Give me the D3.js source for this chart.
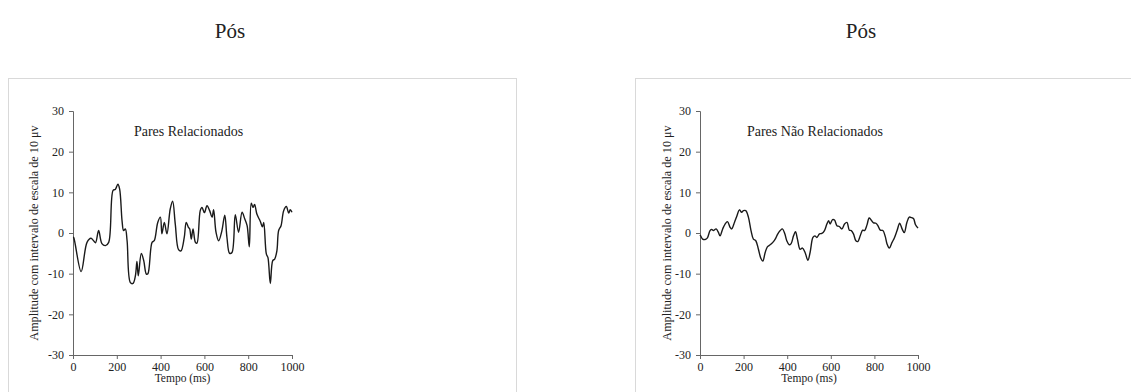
<!DOCTYPE html>
<html>
<head>
<meta charset="utf-8">
<script src="https://cdn.jsdelivr.net/npm/d3@7"></script>
<style>
  html, body { margin: 0; padding: 0; background: #fff; }
  svg { display: block; }
  text { font-family: "Liberation Serif", "Times New Roman", serif; fill: #222; }
</style>
</head>
<body>
<svg id="chart" width="1131" height="392"></svg>
<script>
// ERP waveforms (amplitude vs. time) for the post-test condition
const timeRel = [0, 3, 37, 64, 82, 94, 103, 117, 132, 148, 163, 183, 193, 205, 213, 224, 231, 239, 247,
  262, 274, 285, 292, 298, 312, 323, 335, 342, 361, 371, 387, 399, 406, 417, 429, 444, 455, 467, 482,
  493, 508, 517, 527, 533, 540, 548, 559, 566, 581, 589, 600, 612, 624, 635, 642, 653, 665, 680, 693,
  703, 715, 726, 741, 756, 772, 784, 795, 805, 814, 822, 829, 840, 855, 865, 871, 883, 890, 901, 912,
  921, 931, 939, 950, 962, 974, 985, 992, 1000];
const ampRel = [-1, -1.1, -9.5, -2.3, -1.3, -1.9, -2.4, 0.6, -2.6, -3.1, -2.3, 10.5, 10.7, 12, 10.8, 3, 0.6, 1, -1.9,
  -12.2, -12.4, -10.5, -7, -10.5, -5, -6.8, -10.1, -10, -2.3, -1.9, 2.6, 3.9, -0.2, 2.6, -0.2, 5.9, 7.8, 2.2, -4.1,
  -4.4, -1.1, 2.6, 1.4, 1, -1.5, 1, -2.3, -2.5, 5.5, 6.3, 5, 6.7, 5.5, 3.9, 5.7, 0.2, -1.9, 0.6, 4.4,
  -1.1, -5, -4.8, 4.5, 0.2, 5.1, 3.5, 1.8, -3.4, 7.3, 6.3, 7, 4.6, 2.9, 1.5, 2.6, -5.2, -6, -12.4, -6.8,
  -6.4, -4.4, 0.6, 1.8, 5.5, 6.5, 4.9, 5.7, 5.1];

const timeNonRel = [0, 3, 12, 23, 34, 46, 54, 61, 74, 84, 92, 104, 115, 126, 138, 145, 158, 168, 181, 191,
  199, 210, 222, 234, 245, 256, 268, 279, 288, 299, 309, 322, 334, 345, 357, 368, 378, 389, 398, 409,
  418, 429, 438, 447, 459, 470, 482, 495, 505, 518, 527, 536, 548, 559, 571, 582, 590, 597, 608, 617,
  628, 639, 651, 663, 674, 685, 694, 704, 715, 724, 735, 746, 755, 766, 776, 785, 796, 807, 816, 827,
  839, 850, 858, 868, 881, 891, 904, 916, 927, 937, 949, 960, 969, 980, 988, 1000];
const ampNonRel = [-0.5, -0.7, -1.5, -1.6, -1.2, 0.6, 0.9, 0.6, 1, 0.2, -0.7, 1, 2.2, 2.8, 1.4, 1, 2.6, 4, 5.7, 5.1,
  5.5, 5.5, 3.9, 0.6, -1.5, -1.9, -4, -6.2, -6.9, -4.8, -3.4, -2.9, -2.3, -1.5, -0.2, 0.6, 1, -0.2, -1.9, -2.9,
  -2.6, -0.7, 0.3, -1.5, -4, -3.7, -4.8, -6.7, -4.8, -1.1, -0.7, -1.1, -0.2, -0.1, 0.6, 2.2, 3, 2.2, 3.3, 3.2,
  1.8, 1.6, 1, 2.2, 2.6, 0.7, 0.6, -0.2, -1.9, -2.1, -0.7, 0.7, 0.6, 2, 3.7, 3.2, 2.5, 2.4, 1.8, 0.7,
  0.6, -0.9, -2.7, -3.7, -2.3, -1.3, 0.6, 2.4, 1, 0.1, 2.6, 3.9, 3.8, 3.5, 2.1, 1.2];

const yTicks = [-30, -20, -10, 0, 10, 20, 30];
const xTicks = [0, 200, 400, 600, 800, 1000];
const pageTitle = "Pós";
const yTitle = "Amplitude com intervalo de escala de 10 μv";
const xTitle = "Tempo (ms)";

const panels = [
  { title: "Pares Relacionados", times: timeRel, amps: ampRel,
    frame: [8, 78, 508, 330], heading: 230, plot: [73, 292], yTitleX: 34 },
  { title: "Pares Não Relacionados", times: timeNonRel, amps: ampNonRel,
    frame: [635, 78, 508, 330], heading: 861, plot: [700, 918], yTitleX: 667 }
];

const svg = d3.select("#chart");
const plotTop = 111, plotBottom = 355;

panels.forEach(p => {
  svg.append("text")
    .attr("x", p.heading).attr("y", 38)
    .attr("text-anchor", "middle")
    .style("font-size", "21px")
    .text(pageTitle);

  svg.append("rect")
    .attr("x", p.frame[0] + 0.5).attr("y", p.frame[1] + 0.5)
    .attr("width", p.frame[2]).attr("height", p.frame[3])
    .attr("fill", "none").attr("stroke", "#d9d9d9");

  const x = d3.scaleLinear().domain([0, 1000]).range(p.plot);
  const y = d3.scaleLinear().domain([-30, 30]).range([plotBottom, plotTop]);

  const yAxis = svg.append("g")
    .attr("transform", `translate(${p.plot[0]},0)`)
    .call(d3.axisLeft(y).tickValues(yTicks).tickFormat(d => String(d)).tickSize(4).tickPadding(5));
  const xAxis = svg.append("g")
    .attr("transform", `translate(0,${plotBottom})`)
    .call(d3.axisBottom(x).tickValues(xTicks).tickFormat(d => String(d)).tickSize(4).tickPadding(3));

  [yAxis, xAxis].forEach(a => {
    a.select(".domain").attr("stroke", "#666");
    a.selectAll(".tick line").attr("stroke", "#666");
    a.selectAll(".tick text").style("font-size", "12px").style("font-family", "'Liberation Serif', serif").attr("fill", "#222");
  });

  svg.append("text")
    .attr("transform", `translate(${p.yTitleX},${(plotTop + plotBottom) / 2}) rotate(-90)`)
    .attr("text-anchor", "middle").attr("dy", "0.35em")
    .style("font-size", "12.2px")
    .text(yTitle);

  svg.append("text")
    .attr("x", (p.plot[0] + p.plot[1]) / 2).attr("y", 382)
    .attr("text-anchor", "middle")
    .style("font-size", "11.5px")
    .text(xTitle);

  svg.append("text")
    .attr("x", x(500) + 6).attr("y", 136)
    .attr("text-anchor", "middle")
    .style("font-size", "14px")
    .text(p.title);

  const line = d3.line()
    .x((d, i) => x(p.times[i]))
    .y(d => y(d))
    .curve(d3.curveCatmullRom.alpha(0.5));

  svg.append("path")
    .datum(p.amps)
    .attr("d", line)
    .attr("fill", "none")
    .attr("stroke", "#1a1a1a")
    .attr("stroke-width", 1.4)
    .attr("stroke-linejoin", "round");
});
</script>
</body>
</html>
